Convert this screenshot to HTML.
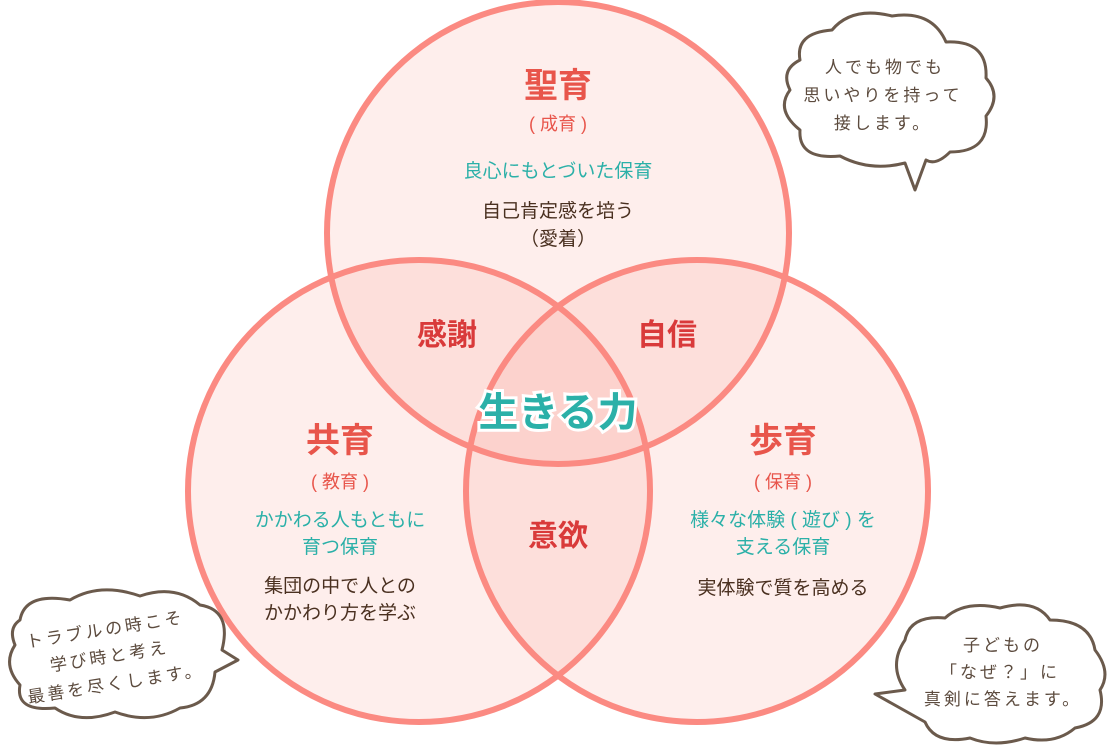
<!DOCTYPE html>
<html><head><meta charset="utf-8"><style>
html,body{margin:0;padding:0;background:#fff;}
svg{display:block;}
text{font-family:"Liberation Sans","Noto Sans CJK JP",sans-serif;text-anchor:middle;}
.b{fill:#5c4b3e;font-size:17px;letter-spacing:3px;}
</style></head><body>
<svg width="1113" height="749" viewBox="0 0 1113 749" xmlns="http://www.w3.org/2000/svg">
<g fill="#f98c80" fill-opacity="0.15">
<circle cx="558" cy="233" r="231"/>
<circle cx="419" cy="491" r="231"/>
<circle cx="697" cy="491" r="231"/>
</g>
<g fill="none" stroke="#fb8a82" stroke-width="6">
<circle cx="558" cy="233" r="231"/>
<circle cx="419" cy="491" r="231"/>
<circle cx="697" cy="491" r="231"/>
</g>
<g fill="#fff" stroke="#6b5a4c" stroke-width="3" stroke-linejoin="round">
<path d="M800,60 Q795,33 832,30 Q852,6 892,16 Q932,10 946,42 Q988,40 986,78 Q1002,96 986,116 Q990,152 950,152 Q936,166 926,160 L915,190 L905,163 Q870,172 840,156 Q798,160 800,130 Q775,110 790,90 Q780,70 800,60 Z"/>
<path d="M20,620 Q25,592 70,600 Q100,582 140,596 Q175,584 200,605 Q232,610 222,650 L238,660 L215,672 Q212,705 180,708 Q150,725 115,712 Q80,725 55,708 Q15,712 20,685 Q2,665 15,645 Q8,628 20,620 Z"/>
<path d="M905,640 Q910,615 945,618 Q965,600 1000,608 Q1035,598 1050,620 Q1090,620 1095,650 Q1112,672 1100,690 Q1108,722 1075,728 Q1055,745 1025,738 Q995,748 970,738 Q935,745 925,722 L875,694 L905,690 Q888,665 905,640 Z"/>
</g>
<g class="b">
<text x="885" y="73">人でも物でも</text>
<text x="883" y="101">思いやりを持って</text>
<text x="883" y="129">接します。</text>
</g>
<g class="b" transform="rotate(-9 110 660)">
<text x="110" y="635">トラブルの時こそ</text>
<text x="110" y="662">学び時と考え</text>
<text x="112" y="690">最善を尽くします。</text>
</g>
<g class="b">
<text x="1003" y="651">子どもの</text>
<text x="1000" y="678">「なぜ？」に</text>
<text x="1003" y="705">真剣に答えます。</text>
</g>
<g font-weight="bold">
<text x="558" y="97" font-size="34" fill="#e8554b">聖育</text>
<text x="340" y="452" font-size="34" fill="#e8554b">共育</text>
<text x="783" y="452" font-size="34" fill="#e8554b">歩育</text>
<text x="447" y="345" font-size="30" fill="#d93a3a">感謝</text>
<text x="667" y="345" font-size="30" fill="#d93a3a">自信</text>
<text x="558" y="546" font-size="30" fill="#d93a3a">意欲</text>
<text x="558" y="426" font-size="40" fill="#2bb0a8" stroke="#fff" stroke-width="6" paint-order="stroke">生きる力</text>
</g>
<g font-size="18" fill="#e8554b">
<text x="558" y="130">( 成育 )</text>
<text x="340" y="488">( 教育 )</text>
<text x="783" y="488">( 保育 )</text>
</g>
<g font-size="19" fill="#2bb0a8">
<text x="558" y="177">良心にもとづいた保育</text>
<text x="340" y="526">かかわる人もともに</text>
<text x="340" y="553">育つ保育</text>
<text x="783" y="526">様々な体験 ( 遊び ) を</text>
<text x="783" y="553">支える保育</text>
</g>
<g font-size="19" fill="#4a3020">
<text x="558" y="217">自己肯定感を培う</text>
<text x="558" y="245">（愛着）</text>
<text x="340" y="592">集団の中で人との</text>
<text x="340" y="619">かかわり方を学ぶ</text>
<text x="783" y="594">実体験で質を高める</text>
</g>
</svg>
</body></html>
